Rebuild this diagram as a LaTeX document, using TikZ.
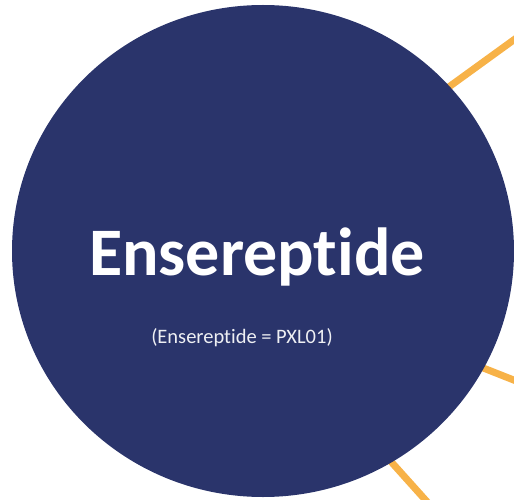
\documentclass[tikz,border=0pt]{standalone}
\usepackage{fontspec}
\setmainfont[Ligatures=NoCommon]{Carlito}
\usetikzlibrary{shapes.geometric,backgrounds}
\definecolor{pxlNavy}{RGB}{42,52,107}
\definecolor{pxlOrange}{RGB}{247,178,72}
\tikzset{
  drugcircle/.style={ellipse, fill=pxlNavy, minimum width=502pt, minimum height=492pt,
    inner sep=0pt},
  drugtitle/.style={font=\bfseries\fontsize{68}{76}\selectfont, text=white, inner sep=0pt},
  drugalias/.style={font=\fontsize{20.5}{24}\selectfont, text=white!92!pxlNavy, inner sep=0pt},
  spokeline/.style={draw=pxlOrange, line width=7pt},
}

\begin{document}
\begin{tikzpicture}[x=1pt,y=-1pt]
  \useasboundingbox (0,0) rectangle (514,500);
  \clip (0,0) rectangle (514,500);

  \node[drugcircle] (pxl) at (263,251) {};
  \node[drugtitle, anchor=base] (name) at (257,275) {Ensereptide};
  \node[drugalias, anchor=base] (alias) at (242,343) {(Ensereptide = PXL01)};

  % spokes run off the page behind the circle
  \coordinate (hub) at (210,260);
  \coordinate (spokeA) at (544,18);
  \coordinate (spokeB) at (544,392);
  \coordinate (spokeC) at (447,524);

  \begin{scope}[on background layer]
    \draw[spokeline] (hub) -- (spokeA);
    \draw[spokeline] (hub) -- (spokeB);
    \draw[spokeline] (hub) -- (spokeC);
  \end{scope}
\end{tikzpicture}
\end{document}
